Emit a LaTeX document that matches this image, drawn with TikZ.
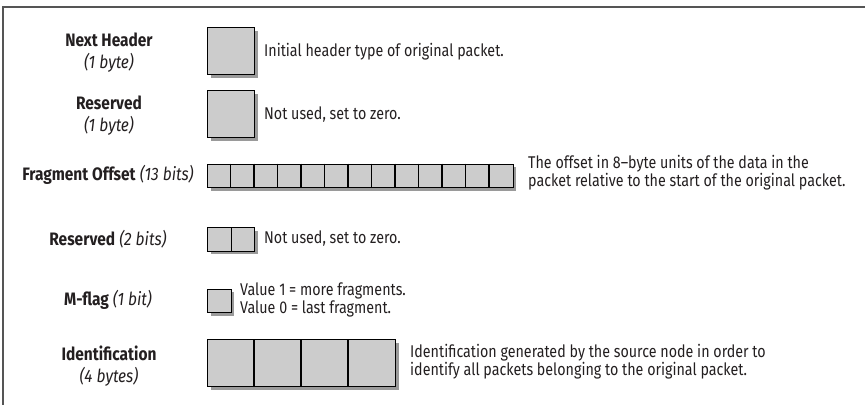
\documentclass[tikz,border=0pt]{standalone}
\usepackage{fontspec}
\setmainfont[FakeStretch=0.84]{Fira Sans}
\newfontfamily\lblfont[FakeStretch=0.86]{Fira Sans}
\usetikzlibrary{shadows}
\definecolor{boxgray}{HTML}{CCCCCC}
\definecolor{shadowgray}{HTML}{9A9A9A}
\definecolor{framegray}{HTML}{555555}
\definecolor{ink}{HTML}{231F20}
\begin{document}
\begin{tikzpicture}[x=1pt,y=-1pt,
  field/.style={draw=black, fill=boxgray, line width=1.1pt, inner sep=0pt, anchor=north west,
    drop shadow={shadow xshift=3pt, shadow yshift=-3pt, fill=shadowgray, opacity=1}},
  divider/.style={draw=black, line width=1.1pt},
  lbl/.style={align=center, text=ink, inner sep=0pt, font=\lblfont\fontsize{18}{22}\selectfont},
  desc/.style={anchor=west, align=left, text=ink, inner sep=0pt, font=\fontsize{17}{18}\selectfont}]
\useasboundingbox (0,0) rectangle (865,405);
\coordinate (tr) at (865,7);
\coordinate (tl) at (3,7);
\coordinate (bl) at (3,405);
\draw[framegray, line width=1.5pt] (tr) -- (tl) -- (bl);

% fields
\node[field, minimum width=47pt, minimum height=47pt] (nh) at (207,27) {};
\node[field, minimum width=47pt, minimum height=47pt] (res1) at (207,90) {};
\node[field, minimum width=305.5pt, minimum height=23.5pt] (fo) at (207,163.5) {};
\foreach \i in {1,...,12}
  \draw[divider] ([xshift=\i*23.5pt]fo.north west) -- ([xshift=\i*23.5pt]fo.south west);
\node[field, minimum width=47pt, minimum height=23.5pt] (res2) at (207,227) {};
\draw[divider] (res2.north) -- (res2.south);
\node[field, minimum width=23.5pt, minimum height=23.5pt] (mf) at (207,288.5) {};
\node[field, minimum width=188pt, minimum height=47pt] (id) at (207,339) {};
\foreach \i in {1,2,3}
  \draw[divider] ([xshift=\i*47pt]id.north west) -- ([xshift=\i*47pt]id.south west);

% labels
\node[lbl] (nhl) at (109,53) {\textbf{Next Header}\\\textit{(1 byte)}};
\node[lbl] (res1l) at (109,116) {\textbf{Reserved}\\\textit{(1 byte)}};
\node[lbl] (fol) at (108,175) {\textbf{Fragment Offset} \textit{(13 bits)}};
\node[lbl] (res2l) at (108,239) {\textbf{Reserved} \textit{(2 bits)}};
\node[lbl] (mfl) at (108,300) {\textbf{M-flag} \textit{(1 bit)}};
\node[lbl] (idl) at (109,366) {\textbf{Identification}\\\textit{(4 bytes)}};

% descriptions
\node[desc] (nhd) at (264,52) {Initial header type of original packet.};
\node[desc] (res1d) at (264,115) {Not used, set to zero.};
\node[desc] (fod) at (528,173) {The offset in 8–byte units of the data in the\\packet relative to the start of the original packet.};
\node[desc] (res2d) at (264,239) {Not used, set to zero.};
\node[desc] (mfd) at (240,300) {Value 1 = more fragments.\\Value 0 = last fragment.};
\node[desc] (idd) at (410,362) {Identification generated by the source node in order to\\identify all packets belonging to the original packet.};
\end{tikzpicture}
\end{document}
